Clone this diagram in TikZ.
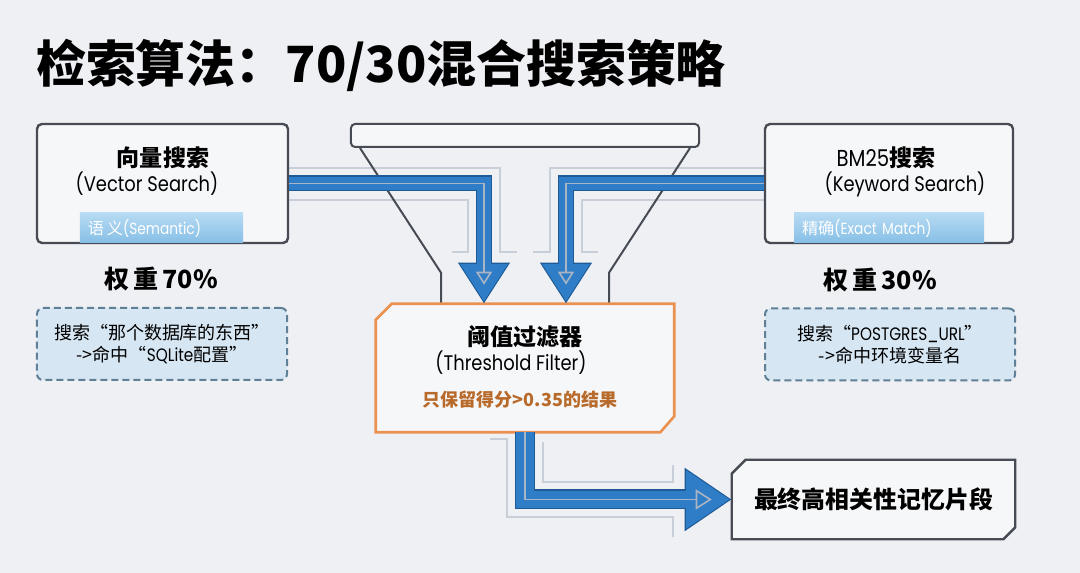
\documentclass[tikz,border=0pt]{standalone}
\usepackage{fontspec}
\setmainfont{Noto Sans CJK SC}
\newfontfamily\latinfont[FakeStretch=0.85]{Poppins}
\usepackage{xcolor}
\usepackage{tikz}
\usetikzlibrary{arrows.meta,positioning,calc}

\definecolor{bgcol}{HTML}{EEF0F4}
\definecolor{cardfill}{HTML}{F6F7F9}
\definecolor{cardline}{HTML}{464B54}
\definecolor{flowblue}{HTML}{2F7DC6}
\definecolor{flowedge}{HTML}{1D5A96}
\definecolor{flowcore}{HTML}{A9B5C4}
\definecolor{notefill}{HTML}{D6E6F2}
\definecolor{noteline}{HTML}{5F8097}
\definecolor{filterline}{HTML}{EA9150}
\definecolor{filtertext}{HTML}{B86A2A}
\definecolor{tagtop}{HTML}{B7DBF3}
\definecolor{tagbot}{HTML}{86BEE6}
\definecolor{tracegray}{HTML}{C8CFD8}

\begin{document}
\begin{tikzpicture}[
  x=0.25mm,y=-0.25mm,
  >=Latex,
  card/.style={draw=cardline, line width=0.6mm, fill=cardfill, rounded corners=1.25mm, minimum width=62.75mm, minimum height=29.75mm, inner sep=0pt},
  cardhead/.style={font=\fontsize{16.4}{19}\selectfont\bfseries},
  cardsub/.style={font=\latinfont\fontsize{15}{18}\selectfont},
  tag/.style={top color=tagtop, bottom color=tagbot, text=white, minimum height=7.5mm, inner xsep=2mm, inner ysep=0pt, align=left, font=\fontsize{11.5}{13}\selectfont},
  weight/.style={font=\fontsize{17.8}{20}\selectfont\bfseries},
  note/.style={draw=noteline, dash pattern=on 1.75mm off 1mm, line width=0.5mm, fill=notefill, rounded corners=1.5mm, minimum width=62.5mm, minimum height=18mm, align=center, font=\fontsize{12.8}{16}\selectfont},
  funnel/.style={draw=cardline, line width=0.5mm},
  gate/.style={draw=filterline, line width=0.65mm, fill=cardfill},
  plate/.style={draw=cardline, line width=0.6mm, fill=cardfill},
  trace/.style={draw=tracegray, line width=0.3mm},
  flowedge/.style={draw=flowedge, line width=4mm, -{Triangle[width=12.25mm,length=10.25mm]}},
  flowbody/.style={draw=flowblue, line width=3.4mm, shorten >=0.5mm, -{Triangle[width=11.2mm,length=9.4mm]}},
  flowcore/.style={draw=flowcore, line width=0.4mm, shorten >=4.75mm, -{Triangle[open,width=4mm,length=3.25mm]}},
  outedge/.style={draw=flowedge, line width=5mm, -{Triangle[width=15mm,length=11.75mm]}},
  outbody/.style={draw=flowblue, line width=4.4mm, shorten >=0.5mm, -{Triangle[width=13.9mm,length=10.9mm]}},
  outcore/.style={draw=flowcore, line width=0.4mm, shorten >=5mm, -{Triangle[open,width=5mm,length=4mm]}}
]
\useasboundingbox (0,0) rectangle (1080,573);
\fill[bgcol] (0,0) rectangle (1080,573);

\node[font=\fontsize{35.5}{40}\selectfont\bfseries] (title) at (381,65) {检索算法：70/30混合搜索策略};

% Circuit traces behind the flows.
\draw[trace] (288,168) -- (500,168) -- (500,252) -- (517,252);
\draw[trace] (288,200) -- (468,200) -- (468,252) -- (452,252);
\draw[trace] (765,168) -- (550,168) -- (550,252) -- (533,252);
\draw[trace] (765,200) -- (582,200) -- (582,252) -- (598,252);
\draw[trace] (490,439) -- (507,439) -- (507,517) -- (673,517) -- (673,537);
\draw[trace] (543,442) -- (543,482) -- (673,482) -- (673,465);

% Two search sources.
\node[card] (vec) at (162.5,183.5) {};
\node[cardhead] (vechead) at (163,158) {向量搜索};
\node[cardsub] (vecsub) at (147,184) {(Vector Search)};
\node[tag, text width=36.75mm] (vectag) at (161.5,228) {语\,义{\latinfont(Semantic)}};
\node[weight] (vecweight) at (161,279) {权\,重\,70\%};
\node[note] (vecnote) at (162,344) {搜索“那个数据库的东西”\\->命中“{\latinfont SQLite}配置”};

\node[card, minimum width=62mm] (bm) at (889,183.5) {};
\node[cardhead] (bmhead) at (886,158) {{\latinfont\mdseries BM25}搜索};
\node[cardsub] (bmsub) at (905,184) {(Keyword Search)};
\node[tag, text width=43.5mm] (bmtag) at (889,228) {精确{\latinfont(Exact Match)}};
\node[weight] (bmweight) at (880,280) {权\,重\,30\%};
\node[note] (bmnote) at (890,344.5) {搜索“{\latinfont POSTGRES\_URL}”\\->命中环境变量名};

% Funnel and threshold gate.
\node[funnel, fill=cardfill, rounded corners=1mm, minimum width=87mm, minimum height=5.75mm] (funtop) at (525,135.5) {};
\node[minimum width=74.5mm, minimum height=32mm, inner sep=0pt] (filter) at (525,368) {};
\draw[funnel] ($(funtop.south)+(-165,0)$) -- ($(filter.north)+(-84,-31)$) -- ($(filter.north)+(-84,0)$);
\draw[funnel] ($(funtop.south)+(165,0)$) -- ($(filter.north)+(84,-31)$) -- ($(filter.north)+(84,0)$);
\draw[gate] ($(filter.north west)+(16,0)$) -- (filter.north east) -- ($(filter.south east)+(0,-16)$) -- ($(filter.south east)+(-14,0)$) -- (filter.south west) -- ($(filter.north west)+(0,16)$) -- cycle;
\node[cardhead] (filterhead) at (525,337) {阈值过滤器};
\node[cardsub] (filtersub) at (511,363) {(Threshold Filter)};
\node[font=\fontsize{12.8}{15}\selectfont\bfseries, text=filtertext] (filterrule) at (520,400) {只保留得分>0.35的结果};

% Result.
\node[minimum width=70.75mm, minimum height=19.75mm, inner sep=0pt] (final) at (873.5,499.5) {};
\draw[plate] ($(final.north west)+(14,0)$) -- (final.north east) -- ($(final.south east)+(0,-12)$) -- ($(final.south east)+(-12,0)$) -- (final.south west) -- ($(final.north west)+(0,14)$) -- cycle;
\node[font=\fontsize{17}{20}\selectfont\bfseries] (finallabel) at (final.center) {最终高相关性记忆片段};

% Flows.
\draw[flowedge] (vec.east) -| ($(filter.north)+(-41,0)$);
\draw[flowbody] (vec.east) -| ($(filter.north)+(-41,0)$);
\draw[flowcore] (vec.east) -| ($(filter.north)+(-41,0)$);
\draw[flowedge] (bm.west) -| ($(filter.north)+(41,0)$);
\draw[flowbody] (bm.west) -| ($(filter.north)+(41,0)$);
\draw[flowcore] (bm.west) -| ($(filter.north)+(41,0)$);
\draw[outedge] (filter.south) |- (final.west);
\draw[outbody] (filter.south) |- (final.west);
\draw[outcore] (filter.south) |- (final.west);
\end{tikzpicture}
\end{document}
